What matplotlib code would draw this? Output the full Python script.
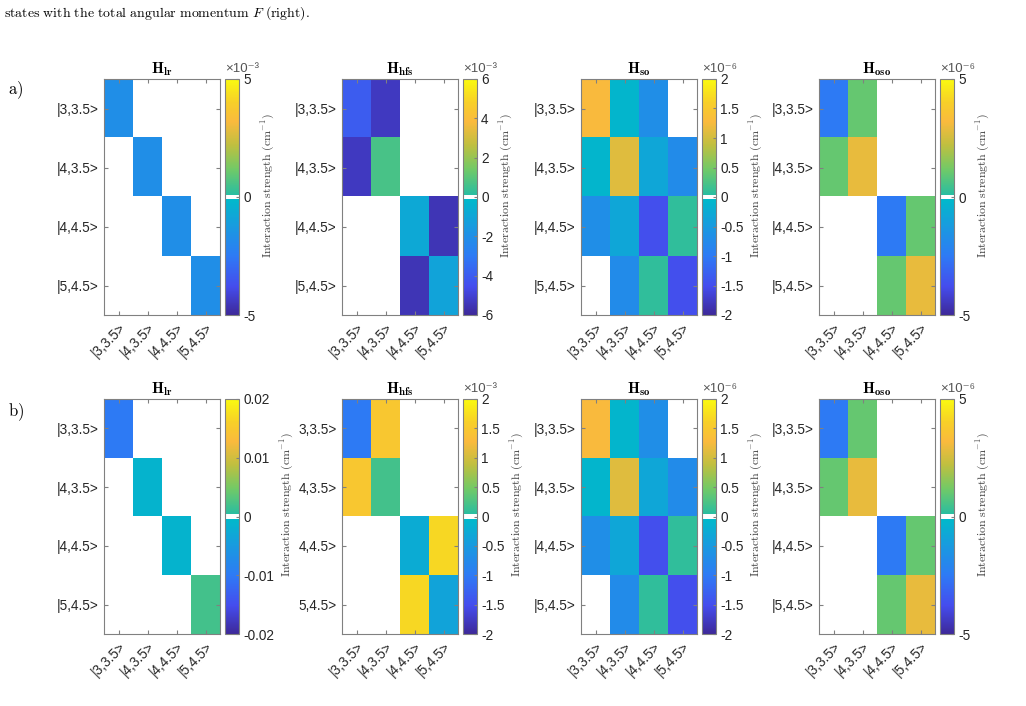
import numpy as np
import matplotlib
matplotlib.use("Agg")
import matplotlib.pyplot as plt
from matplotlib.colors import LinearSegmentedColormap, ListedColormap

plt.rcParams['mathtext.fontset'] = 'cm'
plt.rcParams['font.family'] = ['Liberation Sans', 'DejaVu Sans']

# basis states
states = ["|3,3.5>", "|4,3.5>", "|4,4.5>", "|5,4.5>"]
states_plain = ["3,3.5>", "4,3.5>", "4,4.5>", "5,4.5>"]

titles = ["lr", "hfs", "so", "oso"]

# row a) matrices
a_lr = [[-1.7e-3, 0, 0, 0],
        [0, -1.7e-3, 0, 0],
        [0, 0, -1.7e-3, 0],
        [0, 0, 0, -1.7e-3]]
a_hfs = [[-4.0e-3, -5.3e-3, 0, 0],
         [-5.3e-3, 0.7e-3, 0, 0],
         [0, 0, -0.85e-3, -5.5e-3],
         [0, 0, -5.5e-3, -1.1e-3]]
a_so = [[1.28e-6, -0.1e-6, -0.68e-6, 0],
        [-0.1e-6, 1.1e-6, -0.32e-6, -0.72e-6],
        [-0.68e-6, -0.32e-6, -1.48e-6, 0.08e-6],
        [0, -0.72e-6, 0.08e-6, -1.48e-6]]
a_oso = [[-2.5e-6, 1.0e-6, 0, 0],
         [1.0e-6, 2.9e-6, 0, 0],
         [0, 0, -2.5e-6, 1.0e-6],
         [0, 0, 1.0e-6, 2.9e-6]]

# row b) matrices
b_lr = [[-0.010, 0, 0, 0],
        [0, -0.0012, 0, 0],
        [0, 0, -0.0012, 0],
        [0, 0, 0, 0.002]]
b_hfs = [[-1.0e-3, 1.48e-3, 0, 0],
         [1.48e-3, 0.2e-3, 0, 0],
         [0, 0, -0.24e-3, 1.68e-3],
         [0, 0, 1.68e-3, -0.36e-3]]
b_so = a_so
b_oso = a_oso

# colour limits and tick steps, exponents of the multipliers
a_limits = [5e-3, 6e-3, 2e-6, 5e-6]
a_steps = [5e-3, 2e-3, 0.5e-6, 5e-6]
a_exps = [-3, -3, -6, -6]
b_limits = [0.02, 2e-3, 2e-6, 5e-6]
b_steps = [0.01, 0.5e-3, 0.5e-6, 5e-6]
b_exps = [0, -3, -6, -6]

# parula-like map with a white notch at zero
anchors = [(0.00, (0.24, 0.16, 0.60)),
           (0.12, (0.27, 0.30, 0.93)),
           (0.25, (0.18, 0.48, 0.96)),
           (0.37, (0.10, 0.60, 0.88)),
           (0.494, (0.00, 0.73, 0.79)),
           (0.506, (0.15, 0.74, 0.64)),
           (0.62, (0.45, 0.79, 0.40)),
           (0.72, (0.75, 0.75, 0.25)),
           (0.82, (0.98, 0.73, 0.24)),
           (0.90, (0.97, 0.81, 0.16)),
           (1.00, (0.98, 0.98, 0.06))]
base = LinearSegmentedColormap.from_list("par", anchors, N=512)
cols = base(np.linspace(0, 1, 512))
cols[251:261] = [1, 1, 1, 1]
cmap = ListedColormap(cols)

sup = {"-": "⁻", "3": "³", "6": "⁶"}

fig = plt.figure(figsize=(10.26, 7.06), dpi=100)
W, H = 1026.0, 706.0

lefts = [104, 342, 581, 819]
rows = [(a_lr, a_hfs, a_so, a_oso, a_limits, a_steps, a_exps, 79, 315),
        (b_lr, b_hfs, b_so, b_oso, b_limits, b_steps, b_exps, 399, 634)]
grey = "#808080"

for r, (m1, m2, m3, m4, lims, steps, exps, top, bot) in enumerate(rows):
    mats = [m1, m2, m3, m4]
    for k in range(4):
        ax = fig.add_axes([lefts[k] / W, 1 - bot / H, 116 / W, (bot - top) / H])
        L = lims[k]
        im = ax.imshow(np.array(mats[k]), cmap=cmap, vmin=-L, vmax=L,
                       aspect="auto", interpolation="nearest")
        ax.set_xticks(range(4))
        ax.set_yticks(range(4))
        ax.set_xticklabels(states, rotation=45, ha="right",
                           rotation_mode="anchor", fontsize=9.8, color="#262626")
        ylab = states_plain if (r == 1 and k == 1) else states
        ax.set_yticklabels(ylab, fontsize=9.8, color="#262626")
        ax.tick_params(direction="in", top=True, right=True, length=3,
                       color=grey, pad=4)
        for s in ax.spines.values():
            s.set_color(grey)
        ax.set_title(r"$\mathbf{H}_{\mathbf{%s}}$" % titles[k], fontsize=11, pad=4)

        cax = fig.add_axes([(lefts[k] + 121) / W, 1 - bot / H, 14 / W, (bot - top) / H])
        cb = fig.colorbar(im, cax=cax)
        n = int(round(2 * L / steps[k]))
        ticks = [-L + i * steps[k] for i in range(n + 1)]
        cb.set_ticks(ticks)
        labs = ["%g" % (round(t / 10.0 ** exps[k], 4) + 0.0) for t in ticks]
        cb.set_ticklabels(labs, fontsize=9.8, color="#262626")
        cb.outline.set_edgecolor(grey)
        cax.tick_params(direction="in", length=2, color=grey, pad=3)
        cb.set_label(r"$\mathrm{Interaction\ strength\ (cm^{-1})}$", fontsize=8.6,
                     labelpad=3, color="#404040")
        cax.yaxis.label.set_y(0.55)
        if exps[k] != 0:
            e = "".join(sup[c] for c in str(exps[k]))
            cax.text(0.0, 1.015, "×10" + e, transform=cax.transAxes,
                     ha="left", va="bottom", fontsize=9.5, color="#555555")

fig.text(8 / W, 1 - 90 / H, r"$\mathrm{a)}$", fontsize=12, va="center")
fig.text(8 / W, 1 - 412 / H, r"$\mathrm{b)}$", fontsize=12, va="center")
fig.text(4 / W, 1 - 13 / H,
         r"$\mathrm{states\ with\ the\ total\ angular\ momentum\ }F\mathrm{\ (right).}$",
         fontsize=10, va="center")

fig.savefig("out.png", dpi=100)
